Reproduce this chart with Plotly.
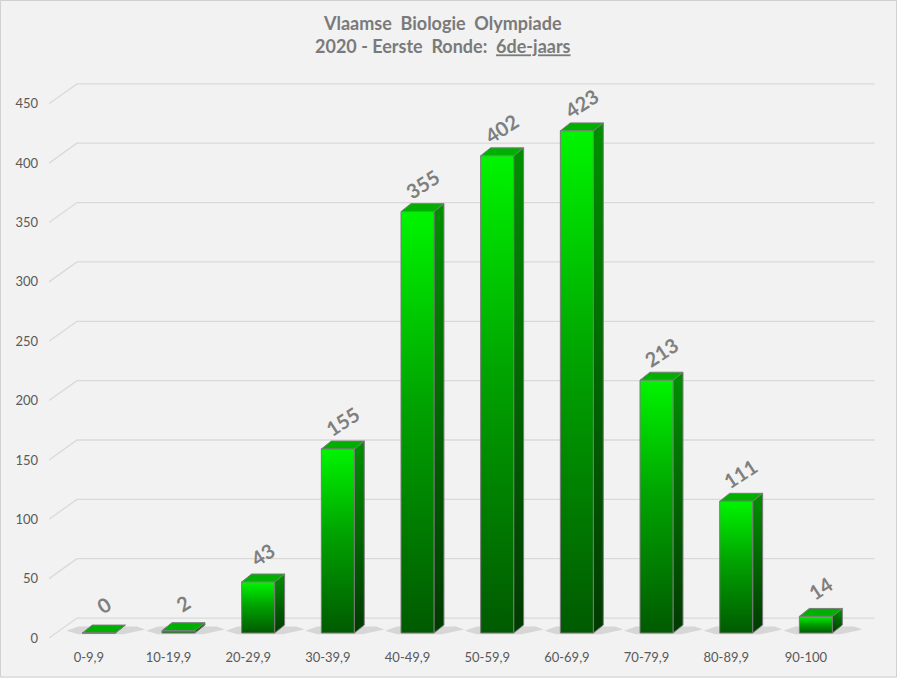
import plotly.graph_objects as go

# data
categories = ["0-9,9", "10-19,9", "20-29,9", "30-39,9", "40-49,9",
              "50-59,9", "60-69,9", "70-79,9", "80-89,9", "90-100"]
counts = [0, 2, 43, 155, 355, 402, 423, 213, 111, 14]
y_ticks = [0, 50, 100, 150, 200, 250, 300, 350, 400, 450]

# fake 3d geometry, in axis units
WALL_DX, WALL_DY = 0.351, 16.8      # back wall offset
BAR_X0, BAR_Y0 = 0.125, 4.2         # bar front face offset from front plane
BAR_HW = 0.207                       # half width of bar
DEPTH_DX, DEPTH_DY = 0.125, 6.7      # bar depth

GRID = "#d9d9d9"
EDGE = "#7a7a7a"
TEXT = "#595959"

fig = go.Figure()

# back wall gridlines with diagonal lead-in
gx, gy = [], []
for v in y_ticks:
    gx += [-0.5, -0.5 + WALL_DX, 9.5 + WALL_DX + 0.01, None]
    gy += [v, v + WALL_DY, v + WALL_DY, None]
fig.add_trace(go.Scatter(x=gx, y=gy, mode="lines", line=dict(color=GRID, width=1.3),
                         hoverinfo="skip", showlegend=False))

for i, v in enumerate(counts):
    cx = i + BAR_X0
    x0, x1 = cx - BAR_HW, cx + BAR_HW
    y0, y1 = BAR_Y0, BAR_Y0 + v

    # soft shadow on the floor
    sx = [x0 - 0.2, x0 - 0.05, x1 + DEPTH_DX + 0.15, x1 + DEPTH_DX + 0.25, x1 + 0.1, x0 - 0.05, x0 - 0.2]
    sy = [y0 + 2, y0 + 5.5, y0 + 5.5, y0 + 3, y0 - 1, y0 - 1, y0 + 2]
    fig.add_trace(go.Scatter(x=sx, y=sy, fill="toself", mode="none",
                             fillcolor="rgba(90,90,90,0.18)", hoverinfo="skip", showlegend=False))

    # side face
    fig.add_trace(go.Scatter(
        x=[x1, x1 + DEPTH_DX, x1 + DEPTH_DX, x1, x1],
        y=[y0, y0 + DEPTH_DY, y1 + DEPTH_DY, y1, y0],
        fill="toself", mode="lines", line=dict(color=EDGE, width=1),
        fillgradient=dict(type="vertical", colorscale=[[0, "#003a00"], [1, "#009000"]]),
        hoverinfo="skip", showlegend=False))
    # top face
    fig.add_trace(go.Scatter(
        x=[x0, x1, x1 + DEPTH_DX, x0 + DEPTH_DX, x0],
        y=[y1, y1, y1 + DEPTH_DY, y1 + DEPTH_DY, y1],
        fill="toself", mode="lines", line=dict(color=EDGE, width=1),
        fillcolor="#00b000", hoverinfo="skip", showlegend=False))
    # front face
    fig.add_trace(go.Scatter(
        x=[x0, x1, x1, x0, x0],
        y=[y0, y0, y1, y1, y0],
        fill="toself", mode="lines", line=dict(color=EDGE, width=1),
        fillgradient=dict(type="vertical",
                          colorscale=[[0, "#005a00"], [0.55, "#00a400"], [1, "#00f500"]]),
        name=categories[i], hovertemplate=categories[i] + ": " + str(v) + "<extra></extra>",
        showlegend=False))

    fig.add_annotation(x=cx + 0.06, y=y1, yshift=28, text=str(v), showarrow=False,
                       textangle=-33, font=dict(family="Lato", size=20, color="#7f7f7f", weight="bold"))

# two-line title as an annotation above the plot area
fig.add_annotation(
    xref="paper", yref="paper", x=0.4746, y=1.0434, xanchor="center", yanchor="middle",
    showarrow=False,
    text="<b>Vlaamse\u00a0 Biologie\u00a0 Olympiade<br>2020 - Eerste\u00a0 Ronde:\u00a0 <u>6de-jaars</u></b>",
    font=dict(family="Lato", size=18, color="#7a7a7a"))

fig.update_layout(
    width=897, height=678,
    paper_bgcolor="#f2f2f2", plot_bgcolor="#f2f2f2",
    margin=dict(l=49, r=17, t=60, b=30),
    font=dict(family="Lato", color=TEXT),
    xaxis=dict(range=[-0.5, 9.93], tickvals=list(range(len(categories))), ticktext=categories,
               showgrid=False, zeroline=False, showline=False, ticks="",
               tickfont=dict(size=13, color=TEXT), ticklabelstandoff=0, fixedrange=True),
    yaxis=dict(range=[-8.42, 486.9], tickvals=y_ticks, showgrid=False, zeroline=False,
               showline=False, ticks="", tickfont=dict(size=13, color=TEXT),
               ticklabelstandoff=10, fixedrange=True),
    shapes=[dict(type="rect", xref="paper", yref="paper",
                 x0=-0.0584, x1=1.0199, y0=-0.0493, y1=1.1012,
                 line=dict(color="#d0d0d0", width=1))],
)

# drop the default page margin so the chart sits at the window's corner
fig.write_html("out.html", config={"displayModeBar": False},
               post_script="document.body.style.margin='0';")
